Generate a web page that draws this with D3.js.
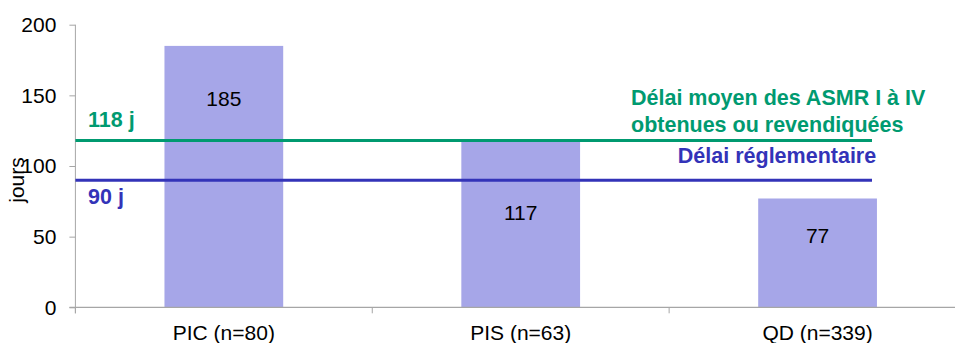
<!DOCTYPE html>
<html>
<head>
<meta charset="utf-8">
<script src="https://cdn.jsdelivr.net/npm/d3@7"></script>
<style>
  html, body { margin: 0; padding: 0; background: #fff; }
  svg { display: block; font-family: "Liberation Sans", Arial, sans-serif; }
</style>
</head>
<body>
<svg id="chart" width="955" height="343"></svg>
<script>
// Mean delay (days) per procedure type
const categories = ["PIC (n=80)", "PIS (n=63)", "QD (n=339)"];
const delays = [185, 117, 77];
const yTicks = [0, 50, 100, 150, 200];

// Reference delays drawn as horizontal lines
const refValues = [118, 90];
const refLabels = ["118 j", "90 j"];
const refCaptions = [
  ["Délai moyen des ASMR I à IV", "obtenues ou revendiquées"],
  ["Délai réglementaire"]
];
const yTitle = "jours";

const W = 955, H = 343;
const svg = d3.select("#chart");

const x0 = 75.4, xEnd = 966, yBase = 307.3, yTop = 24.7;
const y = d3.scaleLinear().domain([0, 200]).range([yBase, yTop]);
const x = d3.scaleBand().domain(categories).range([x0, xEnd])
  .paddingInner(0.6).paddingOuter(0.3);

const axisColor = "#a6a6a6";
const barColor = "#a6a6e8";
const refColors = ["#009a70", "#3333b8"];

// Bars
svg.append("g").selectAll("rect")
  .data(delays)
  .join("rect")
  .attr("x", (d, i) => x(categories[i]))
  .attr("width", x.bandwidth())
  .attr("y", d => y(d))
  .attr("height", d => y(0) - y(d))
  .attr("fill", barColor);

// Value labels inside the bars (offset from bar top, in px)
const valueOffsets = [60, 78, 45];
svg.append("g").selectAll("text")
  .data(delays)
  .join("text")
  .attr("x", (d, i) => x(categories[i]) + x.bandwidth() / 2)
  .attr("y", (d, i) => y(d) + valueOffsets[i])
  .attr("text-anchor", "middle")
  .attr("font-size", 21)
  .attr("fill", "#000")
  .text(d => d);

// Y axis
const yAxis = svg.append("g")
  .attr("transform", `translate(${x0},0)`)
  .call(d3.axisLeft(y).tickValues(yTicks).tickSize(6).tickPadding(13).tickFormat(d3.format("d")));
yAxis.select(".domain").remove();
yAxis.selectAll(".tick line").attr("stroke", axisColor);
yAxis.selectAll(".tick text")
  .attr("font-size", 21)
  .attr("font-family", "Liberation Sans, Arial, sans-serif")
  .attr("fill", "#000");
svg.append("line")
  .attr("x1", x0).attr("x2", x0)
  .attr("y1", y(200)).attr("y2", yBase + 6)
  .attr("stroke", axisColor).attr("stroke-width", 1);

// X axis line and band boundary ticks
svg.append("line")
  .attr("x1", x0 - 6).attr("x2", W)
  .attr("y1", yBase).attr("y2", yBase)
  .attr("stroke", axisColor).attr("stroke-width", 1.2);
const boundaries = d3.range(categories.length + 1).map(i => x0 + i * x.step());
svg.append("g").selectAll("line")
  .data(boundaries)
  .join("line")
  .attr("x1", d => d).attr("x2", d => d)
  .attr("y1", yBase).attr("y2", yBase + 6)
  .attr("stroke", axisColor);

// Category labels
svg.append("g").selectAll("text")
  .data(categories)
  .join("text")
  .attr("x", d => x(d) + x.bandwidth() / 2)
  .attr("y", 340)
  .attr("text-anchor", "middle")
  .attr("font-size", 21)
  .attr("fill", "#000")
  .text(d => d);

// Y axis title
svg.append("text")
  .attr("transform", `translate(24,${180}) rotate(-90)`)
  .attr("text-anchor", "middle")
  .attr("font-size", 21)
  .attr("fill", "#000")
  .text(yTitle);

// Reference lines
const refEnd = 872;
svg.append("g").selectAll("line")
  .data(refValues)
  .join("line")
  .attr("x1", x0).attr("x2", refEnd)
  .attr("y1", d => y(d)).attr("y2", d => y(d))
  .attr("stroke", (d, i) => refColors[i])
  .attr("stroke-width", 3);

// Short value labels at left of each reference line
const refLabelOffsets = [-13.5, 24];
svg.append("g").selectAll("text")
  .data(refLabels)
  .join("text")
  .attr("x", 88)
  .attr("y", (d, i) => y(refValues[i]) + refLabelOffsets[i])
  .attr("font-size", 21.5)
  .attr("font-weight", "bold")
  .attr("fill", (d, i) => refColors[i])
  .text(d => d);

// Captions at right
const greenCap = svg.append("text")
  .attr("font-size", 21.5)
  .attr("font-weight", "bold")
  .attr("fill", refColors[0]);
refCaptions[0].forEach((line, k) => {
  greenCap.append("tspan")
    .attr("x", 631)
    .attr("y", y(refValues[0]) - 35.3 + k * 26.4)
    .text(line);
});
svg.append("text")
  .attr("x", 777)
  .attr("y", y(refValues[1]) - 16.8)
  .attr("text-anchor", "middle")
  .attr("font-size", 21.5)
  .attr("font-weight", "bold")
  .attr("fill", refColors[1])
  .text(refCaptions[1][0]);
</script>
</body>
</html>
